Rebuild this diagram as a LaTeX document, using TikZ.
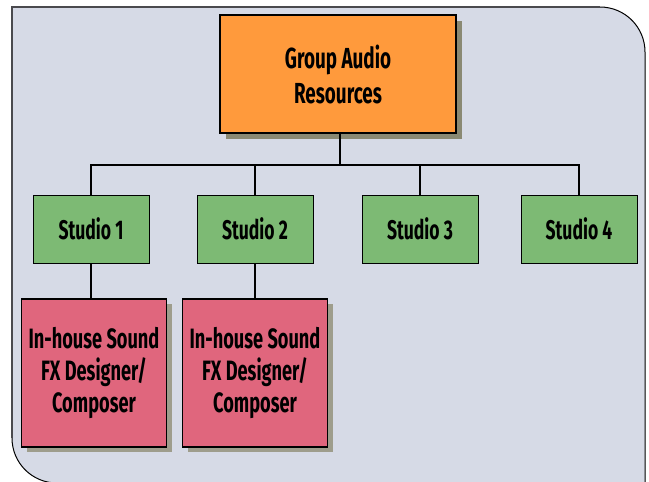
\documentclass[tikz,border=0pt]{standalone}
\usepackage{fontspec}
\setmainfont{Fira Sans}[FakeStretch=0.65]
\usetikzlibrary{positioning, shadows}

\definecolor{panelbg}{RGB}{214,218,230}
\definecolor{panelgrey}{RGB}{74,74,78}
\definecolor{groupfill}{RGB}{255,154,60}
\definecolor{studiofill}{RGB}{125,186,116}
\definecolor{staffill}{RGB}{224,102,125}
\definecolor{groupshade}{RGB}{138,137,115}
\definecolor{staffshade}{RGB}{158,157,140}

\begin{document}
\begin{tikzpicture}[x=1pt, y=-1pt,
    groupbox/.style={draw, line width=1.6pt, fill=groupfill, minimum width=236pt, minimum height=118pt, align=center,
        font=\fontsize{29}{35}\selectfont\bfseries,
        drop shadow={shadow xshift=6pt, shadow yshift=-6pt, fill=groupshade, opacity=1}},
    studiobox/.style={draw, line width=0.8pt, fill=studiofill, minimum width=116pt, minimum height=68pt,
        font=\fontsize{27}{30}\selectfont\bfseries},
    staffbox/.style={draw, line width=1.2pt, fill=staffill, minimum width=145pt, minimum height=148pt, align=center,
        font=\fontsize{28}{32}\selectfont\bfseries,
        drop shadow={shadow xshift=5pt, shadow yshift=-5pt, fill=staffshade, opacity=1}},
    wire/.style={line width=1.6pt}]
    \useasboundingbox (0,0) rectangle (649,482);

    % background panel, round corners top right and bottom left
    \fill[panelbg] (12,7) -- (600,7) .. controls (624.9,7) and (645,27.1) .. (645,52) -- (645,483)
        -- (57,483) .. controls (32.1,483) and (12,462.9) .. (12,438) -- cycle;
    \draw[line width=1pt] (600,7) .. controls (624.9,7) and (645,27.1) .. (645,52) -- (645,483);
    \draw[line width=1pt] (57,483) .. controls (32.1,483) and (12,462.9) .. (12,438);
    \draw[panelgrey, line width=2pt] (12,438) -- (12,7) -- (600,7);

    \path (338,74) node[groupbox] (group) {Group Audio\\Resources};

    \path (91,229) node[studiobox] (studio1) {Studio 1};
    \path (255,229) node[studiobox] (studio2) {Studio 2};
    \path (420,229) node[studiobox] (studio3) {Studio 3};
    \path (579,229) node[studiobox] (studio4) {Studio 4};

    \path (94,373) node[staffbox] (sfx1) {In-house Sound\\FX Designer/\\Composer};
    \path (255,373) node[staffbox] (sfx2) {In-house Sound\\FX Designer/\\Composer};

    \coordinate (bus) at (340,165);
    \draw[wire] (group.south -| bus) -- (bus);
    \draw[wire] (studio1.north) |- (bus);
    \draw[wire] (studio4.north) |- (bus);
    \draw[wire] (studio2.north) -- (studio2.north |- bus);
    \draw[wire] (studio3.north) -- (studio3.north |- bus);
    \draw[wire] (studio1.south) -- (studio1.south |- sfx1.north);
    \draw[wire] (studio2.south) -- (sfx2.north);
\end{tikzpicture}
\end{document}
